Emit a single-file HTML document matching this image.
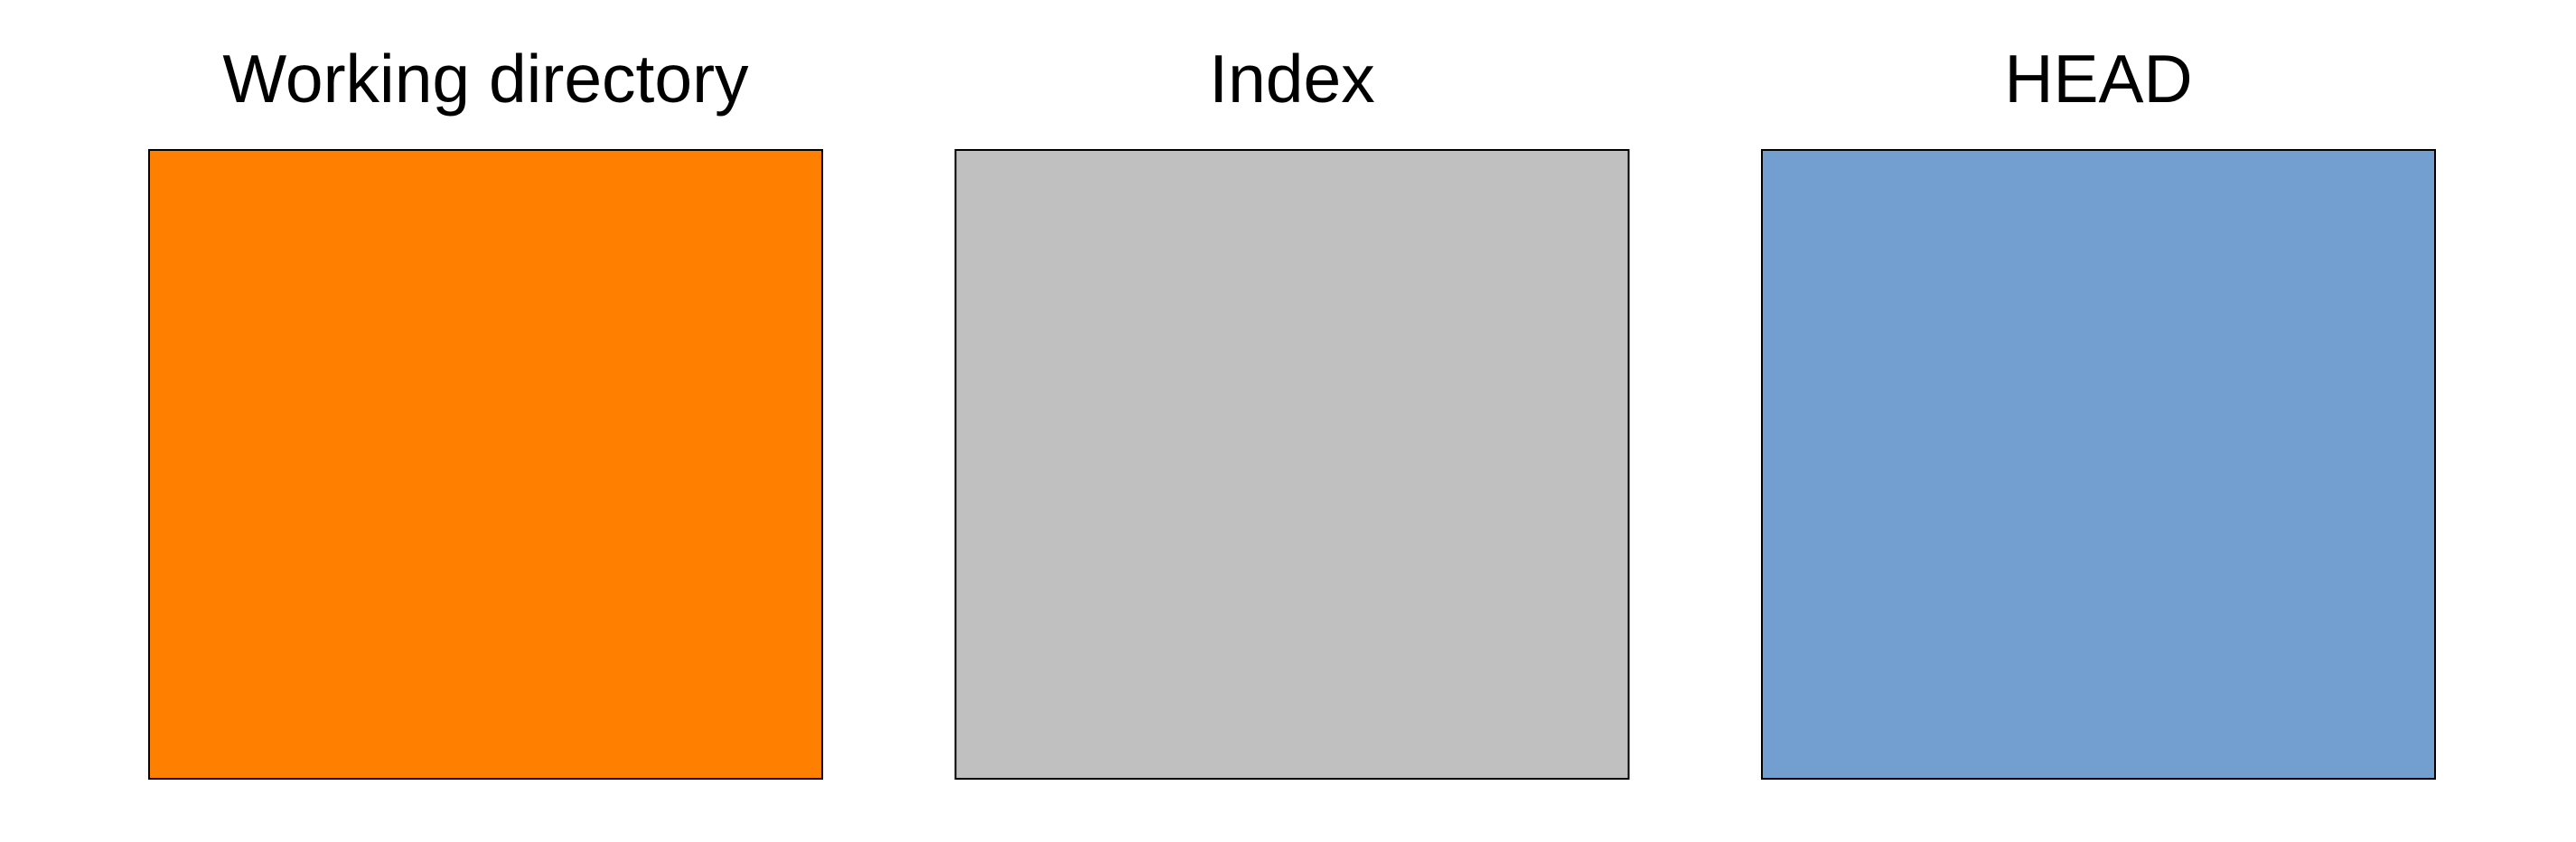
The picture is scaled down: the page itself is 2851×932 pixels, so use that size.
<!DOCTYPE html>
<html><head><meta charset="utf-8"><style>
body{margin:0;width:2851px;height:932px;background:#fff;overflow:hidden}
svg{display:block}
text{font-family:"Liberation Sans",sans-serif;font-size:75px;fill:#000}
</style></head><body>
<svg id="chart" width="2851" height="932" viewBox="0 0 2851 932"></svg>
<script>
const labels = ["Working directory", "Index", "HEAD"];
const colors = ["#ff8000", "#c0c0c0", "#729fcf"];
const names = ["working-directory", "index", "head"];
(function () {
  const svg = document.getElementById('chart');
  const NS = 'http://www.w3.org/2000/svg';
  const x0 = 165, step = 892.5, w = 745, boxTop = 166, h = 696;
  labels.forEach((lab, i) => {
    const x = x0 + i * step;
    const r = document.createElementNS(NS, 'rect');
    r.setAttribute('x', x); r.setAttribute('y', boxTop);
    r.setAttribute('width', w); r.setAttribute('height', h);
    r.setAttribute('fill', colors[i]); r.setAttribute('stroke', '#000'); r.setAttribute('stroke-width', '2');
    
    
    svg.appendChild(r);
    const t = document.createElementNS(NS, 'text');
    t.setAttribute('x', x + w / 2); t.setAttribute('y', 113);
    t.setAttribute('text-anchor', 'middle');
    t.textContent = lab;
    
    
    svg.appendChild(t);
  });
})();
</script>
</body></html>
